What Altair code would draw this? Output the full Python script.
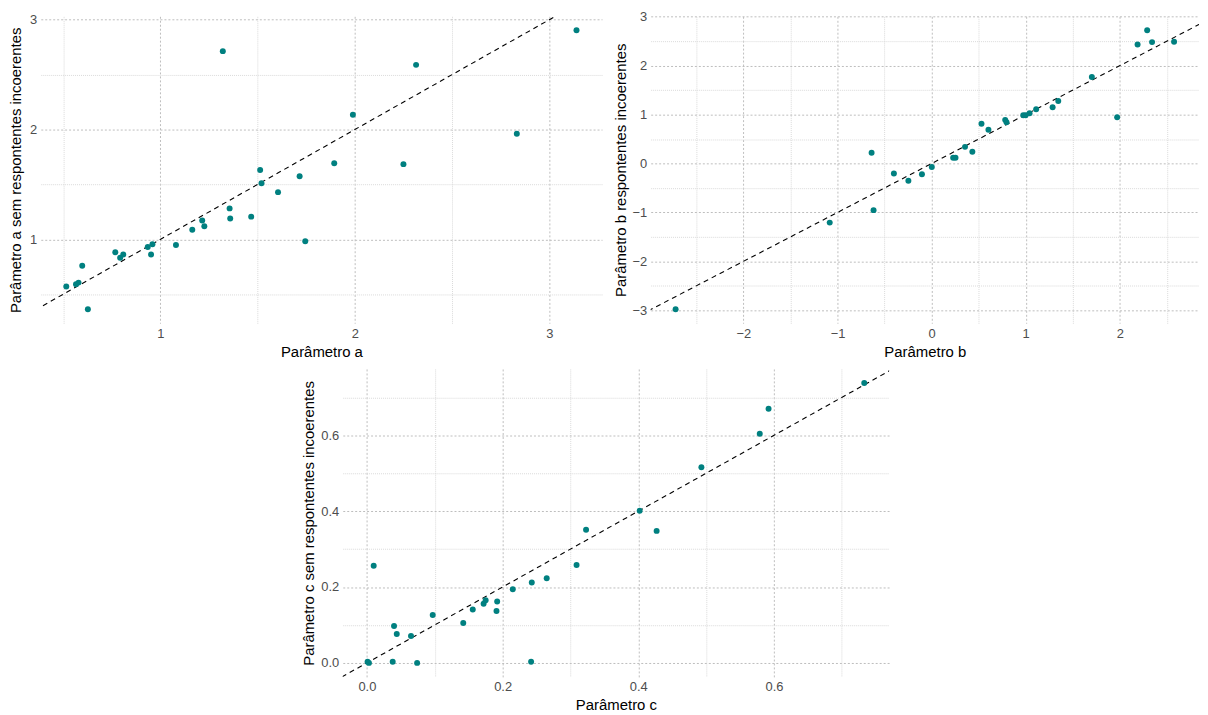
import json
import altair as alt
import pandas as pd

# ---- data ----
a_x = [0.516, 0.566, 0.579, 0.598, 0.627, 0.768, 0.793, 0.809, 0.935, 0.959, 0.952,
       1.080, 1.164, 1.215, 1.226, 1.321, 1.356, 1.359, 1.467, 1.513, 1.520, 1.605,
       1.716, 1.745, 1.894, 1.990, 2.250, 2.315, 2.833, 3.140]
a_y = [0.570, 0.592, 0.606, 0.760, 0.363, 0.883, 0.832, 0.862, 0.931, 0.955, 0.862,
       0.949, 1.087, 1.171, 1.120, 2.714, 1.282, 1.189, 1.207, 1.631, 1.511, 1.430,
       1.574, 0.982, 1.694, 2.135, 1.685, 2.589, 1.961, 2.904]

b_x = [-2.721, -1.083, -0.638, -0.617, -0.401, -0.247, -0.103, 0.002, 0.229, 0.254,
       0.355, 0.433, 0.530, 0.604, 0.782, 0.796, 0.974, 0.999, 1.041, 1.111, 1.286,
       1.346, 1.703, 1.972, 2.189, 2.291, 2.343, 2.577]
b_y = [-2.980, -1.208, 0.218, -0.953, -0.206, -0.354, -0.219, -0.071, 0.118, 0.118,
       0.340, 0.239, 0.811, 0.690, 0.892, 0.845, 0.987, 0.987, 1.027, 1.108, 1.148,
       1.276, 1.768, 0.946, 2.434, 2.723, 2.481, 2.489]

c_x = [0.001, 0.003, 0.010, 0.038, 0.040, 0.044, 0.065, 0.074, 0.097, 0.142, 0.156,
       0.172, 0.175, 0.191, 0.192, 0.215, 0.243, 0.242, 0.265, 0.309, 0.323, 0.402,
       0.427, 0.493, 0.579, 0.592, 0.733]
c_y = [0.003, 0.000, 0.256, 0.003, 0.097, 0.076, 0.071, 0.000, 0.126, 0.105, 0.141,
       0.156, 0.165, 0.137, 0.162, 0.194, 0.212, 0.003, 0.223, 0.258, 0.351, 0.401,
       0.348, 0.516, 0.604, 0.670, 0.738]

a_grid = [0.5, 1.0, 1.5, 2.0, 2.5, 3.0]
a_major = [1.0, 2.0, 3.0]
b_xgrid = [-2.5, -2.0, -1.5, -1.0, -0.5, 0.0, 0.5, 1.0, 1.5, 2.0, 2.5]
b_xmajor = [-2.0, -1.0, 0.0, 1.0, 2.0]
b_ygrid = [-3.0, -2.5, -2.0, -1.5, -1.0, -0.5, 0.0, 0.5, 1.0, 1.5, 2.0, 2.5, 3.0]
b_ymajor = [-3.0, -2.0, -1.0, 0.0, 1.0, 2.0, 3.0]
c_grid = [0.0, 0.1, 0.2, 0.3, 0.4, 0.5, 0.6, 0.7]
c_major = [0.0, 0.2, 0.4, 0.6]

POINT = "#008080"
FONT = "Liberation Sans"


def expand(vals, f=0.05):
    lo, hi = min(vals), max(vals)
    r = hi - lo
    return [lo - f * r, hi + f * r]


def make_axis(title, values, major, fmt, title_pad=4):
    test = f"indexof({json.dumps(major)}, datum.value) >= 0"
    return alt.Axis(
        title=title,
        values=values,
        format=fmt,
        labelExpr=f"{test} ? datum.label : ''",
        labelOverlap=False,
        labelFlush=False,
        ticks=False,
        domain=False,
        grid=True,
        gridColor={"condition": {"test": test, "value": "#bdbdbd"}, "value": "#dadada"},
        gridDash={"condition": {"test": test, "value": [2, 2]}, "value": [1, 1]},
        gridWidth=1,
        labelPadding=4,
        titlePadding=title_pad,
    )


def panel(xs, ys, xtitle, ytitle, xgrid, xmaj, ygrid, ymaj, fmt, w, h, ytp=4):
    df = pd.DataFrame({"x": xs, "y": ys})
    xd = expand(xs)
    yd = expand(ys)
    lo = min(xd[0], yd[0])
    hi = max(xd[1], yd[1])
    ldf = pd.DataFrame({"x": [lo, hi], "y": [lo, hi]})
    xs_ = alt.Scale(domain=xd, nice=False, zero=False)
    ys_ = alt.Scale(domain=yd, nice=False, zero=False)
    xax = make_axis(xtitle, xgrid, xmaj, fmt)
    yax = make_axis(ytitle, ygrid, ymaj, fmt, ytp)
    line = alt.Chart(ldf).mark_line(
        color="black", strokeDash=[5, 4], strokeWidth=1.1, clip=True
    ).encode(
        x=alt.X("x:Q", scale=xs_, axis=xax),
        y=alt.Y("y:Q", scale=ys_, axis=yax),
    )
    pts = alt.Chart(df).mark_circle(size=36, color=POINT, opacity=1).encode(
        x=alt.X("x:Q", scale=xs_, axis=xax),
        y=alt.Y("y:Q", scale=ys_, axis=yax),
    )
    return alt.layer(line, pts).properties(width=w, height=h)


pa = panel(a_x, a_y, "Parâmetro a", "Parâmetro a sem respontentes incoerentes",
           a_grid, a_major, a_grid, a_major, ".0f", 565, 309, ytp=6)
pb = panel(b_x, b_y, "Parâmetro b", "Parâmetro b respontentes incoerentes",
           b_xgrid, b_xmajor, b_ygrid, b_ymajor, ".0f", 552, 309)
pc = panel(c_x, c_y, "Parâmetro c", "Parâmetro c sem respontentes incoerentes",
           c_grid, c_major, c_grid, c_major, ".1f", 550, 310)

spacer = alt.Chart(pd.DataFrame({"x": [0], "y": [0]})).mark_point(opacity=0).encode(
    x=alt.X("x:Q", axis=None), y=alt.Y("y:Q", axis=None)
).properties(width=261, height=1)

chart = alt.vconcat(
    alt.hconcat(pa, pb, spacing=9),
    alt.hconcat(spacer, pc, spacing=0),
    spacing=6,
).properties(
    padding={"left": 0, "top": -1, "right": 0, "bottom": 0}
).configure_view(
    stroke="transparent"
).configure_axis(
    labelFont=FONT,
    titleFont=FONT,
    labelFontSize=13,
    titleFontSize=15,
    titleFontWeight="normal",
    labelColor="#4d4d4d",
    titleColor="#000000",
)

chart.save("out.html", embed_options={"renderer": "svg", "actions": False})
